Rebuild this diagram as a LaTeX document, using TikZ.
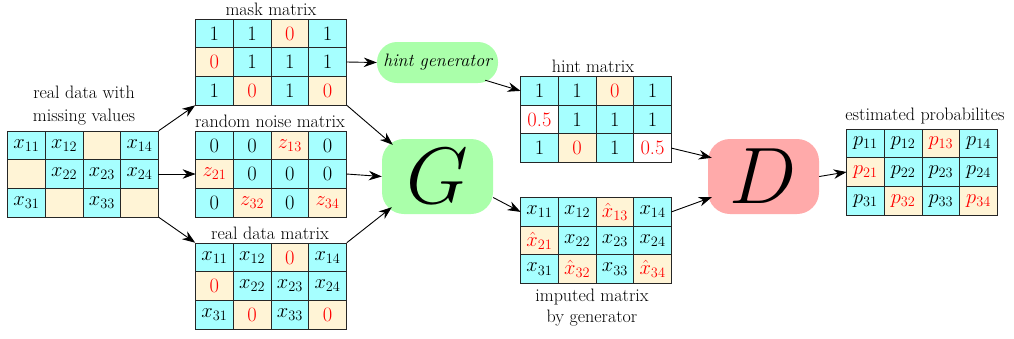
\documentclass[tikz,border=0pt]{standalone}
\usepackage{fix-cm}
\usepackage[no-math]{fontspec}
\usetikzlibrary{matrix,arrows.meta,calc}

\definecolor{cellcyan}{RGB}{166,255,255}
\definecolor{cellbeige}{RGB}{255,244,214}
\definecolor{boxgreen}{RGB}{170,255,170}
\definecolor{boxred}{RGB}{255,170,170}
\newcommand\txtsize{\fontsize{18}{23}\selectfont}
\newcommand\cellsize{\fontsize{20.5}{23}\selectfont}

\tikzset{
  cell/.style={draw=black!85, line width=0.8pt, fill=cellcyan,
    minimum width=37.7pt, minimum height=28.6pt, inner sep=0pt,
    anchor=center, font=\cellsize},
  miss/.style={fill=cellbeige, text=red},
  half/.style={fill=white, text=red},
  grid/.style={matrix of nodes, nodes={cell}, column sep=-0.8pt,
    row sep=-0.8pt, nodes in empty cells, inner sep=0pt, outer sep=0pt},
  caption/.style={font=\txtsize, align=center, inner sep=0pt},
  arr/.style={-{Stealth[length=13pt,width=9.5pt]}, line width=0.9pt},
  net/.style={rounded corners=22pt, minimum width=111pt,
    minimum height=75pt, inner sep=0pt, font=\fontsize{80}{80}\selectfont},
  hintbox/.style={fill=boxgreen, rounded corners=20pt, minimum width=121pt,
    minimum height=41pt, inner sep=0pt, font=\fontsize{18}{22}\selectfont\itshape}
}

\begin{document}
\begin{tikzpicture}[x=1pt,y=-1pt]
\useasboundingbox (0,0) rectangle (1014,338);

% input data with gaps
\matrix (m1) [grid] at (83,174) {
  $x_{11}$ & $x_{12}$ & |[miss]| & $x_{14}$ \\
  |[miss]| & $x_{22}$ & $x_{23}$ & $x_{24}$ \\
  $x_{31}$ & |[miss]| & $x_{33}$ & |[miss]| \\
};
\node[caption] (lm1) at (84,106) {real data with\\missing values};

% mask matrix
\matrix (mask) [grid] at (271,62) {
  1 & 1 & |[miss]| 0 & 1 \\
  |[miss]| 0 & 1 & 1 & 1 \\
  1 & |[miss]| 0 & 1 & |[miss]| 0 \\
};
\node[caption] (lmask) at (271,9) {mask matrix};

% random noise matrix
\matrix (noise) [grid] at (271,174) {
  0 & 0 & |[miss]| $z_{13}$ & 0 \\
  |[miss]| $z_{21}$ & 0 & 0 & 0 \\
  0 & |[miss]| $z_{32}$ & 0 & |[miss]| $z_{34}$ \\
};
\node[caption] (lnoise) at (270,121) {random noise matrix};

% real data matrix
\matrix (real) [grid] at (271,286) {
  $x_{11}$ & $x_{12}$ & |[miss]| 0 & $x_{14}$ \\
  |[miss]| 0 & $x_{22}$ & $x_{23}$ & $x_{24}$ \\
  $x_{31}$ & |[miss]| 0 & $x_{33}$ & |[miss]| 0 \\
};
\node[caption] (lreal) at (270,233) {real data matrix};

% hint generator and hint matrix
\node[hintbox] (hg) at (437.5,62.5) {hint generator};
\matrix (hint) [grid] at (596,119.5) {
  1 & 1 & |[miss]| 0 & 1 \\
  |[half]| 0.5 & 1 & 1 & 1 \\
  1 & |[miss]| 0 & 1 & |[half]| 0.5 \\
};
\node[caption] (lhint) at (593,66) {hint matrix};

% generator and imputed matrix
\node[net, fill=boxgreen] (G) at (437.5,176.5) {$G$};
\matrix (imp) [grid] at (596,240.5) {
  $x_{11}$ & $x_{12}$ & |[miss]| $\hat{x}_{13}$ & $x_{14}$ \\
  |[miss]| $\hat{x}_{21}$ & $x_{22}$ & $x_{23}$ & $x_{24}$ \\
  $x_{31}$ & |[miss]| $\hat{x}_{32}$ & $x_{33}$ & |[miss]| $\hat{x}_{34}$ \\
};
\node[caption, font=\fontsize{18}{21}\selectfont] (limp) at (592,308) {imputed matrix\\by generator};

% discriminator and its output
\node[net, fill=boxred] (D) at (763.5,176.5) {$D$};
\matrix (est) [grid] at (922,172) {
  $p_{11}$ & $p_{12}$ & |[miss]| $p_{13}$ & $p_{14}$ \\
  |[miss]| $p_{21}$ & $p_{22}$ & $p_{23}$ & $p_{24}$ \\
  $p_{31}$ & |[miss]| $p_{32}$ & $p_{33}$ & |[miss]| $p_{34}$ \\
};
\node[caption] (lest) at (925,116) {estimated probabilites};

% data flow
\draw[arr] (m1.north east) -- (mask.south west);
\draw[arr] (m1-2-4.east) -- (noise-2-1.west);
\draw[arr] (m1.south east) -- (real.north west);
\draw[arr] (mask-2-4.east) -- (hg.west);
\draw[arr] (mask.south east) -- ([shift={(11,6)}]G.north west);
\draw[arr] (noise-2-4.east) -- (G.west);
\draw[arr] (real.north east) -- ([shift={(10,-7)}]G.south west);
\draw[arr] ([shift={(-13,-3)}]hg.south east) -- (hint-1-1.west);
\draw[arr] ([shift={(0,21)}]G.east) -- (imp-1-1.west);
\draw[arr] (hint-3-4.east) -- ([shift={(4,19)}]D.north west);
\draw[arr] (imp-1-4.east) -- ([shift={(4,-17)}]D.south west);
\draw[arr] (D.east) -- (est-2-1.west);
\end{tikzpicture}
\end{document}
